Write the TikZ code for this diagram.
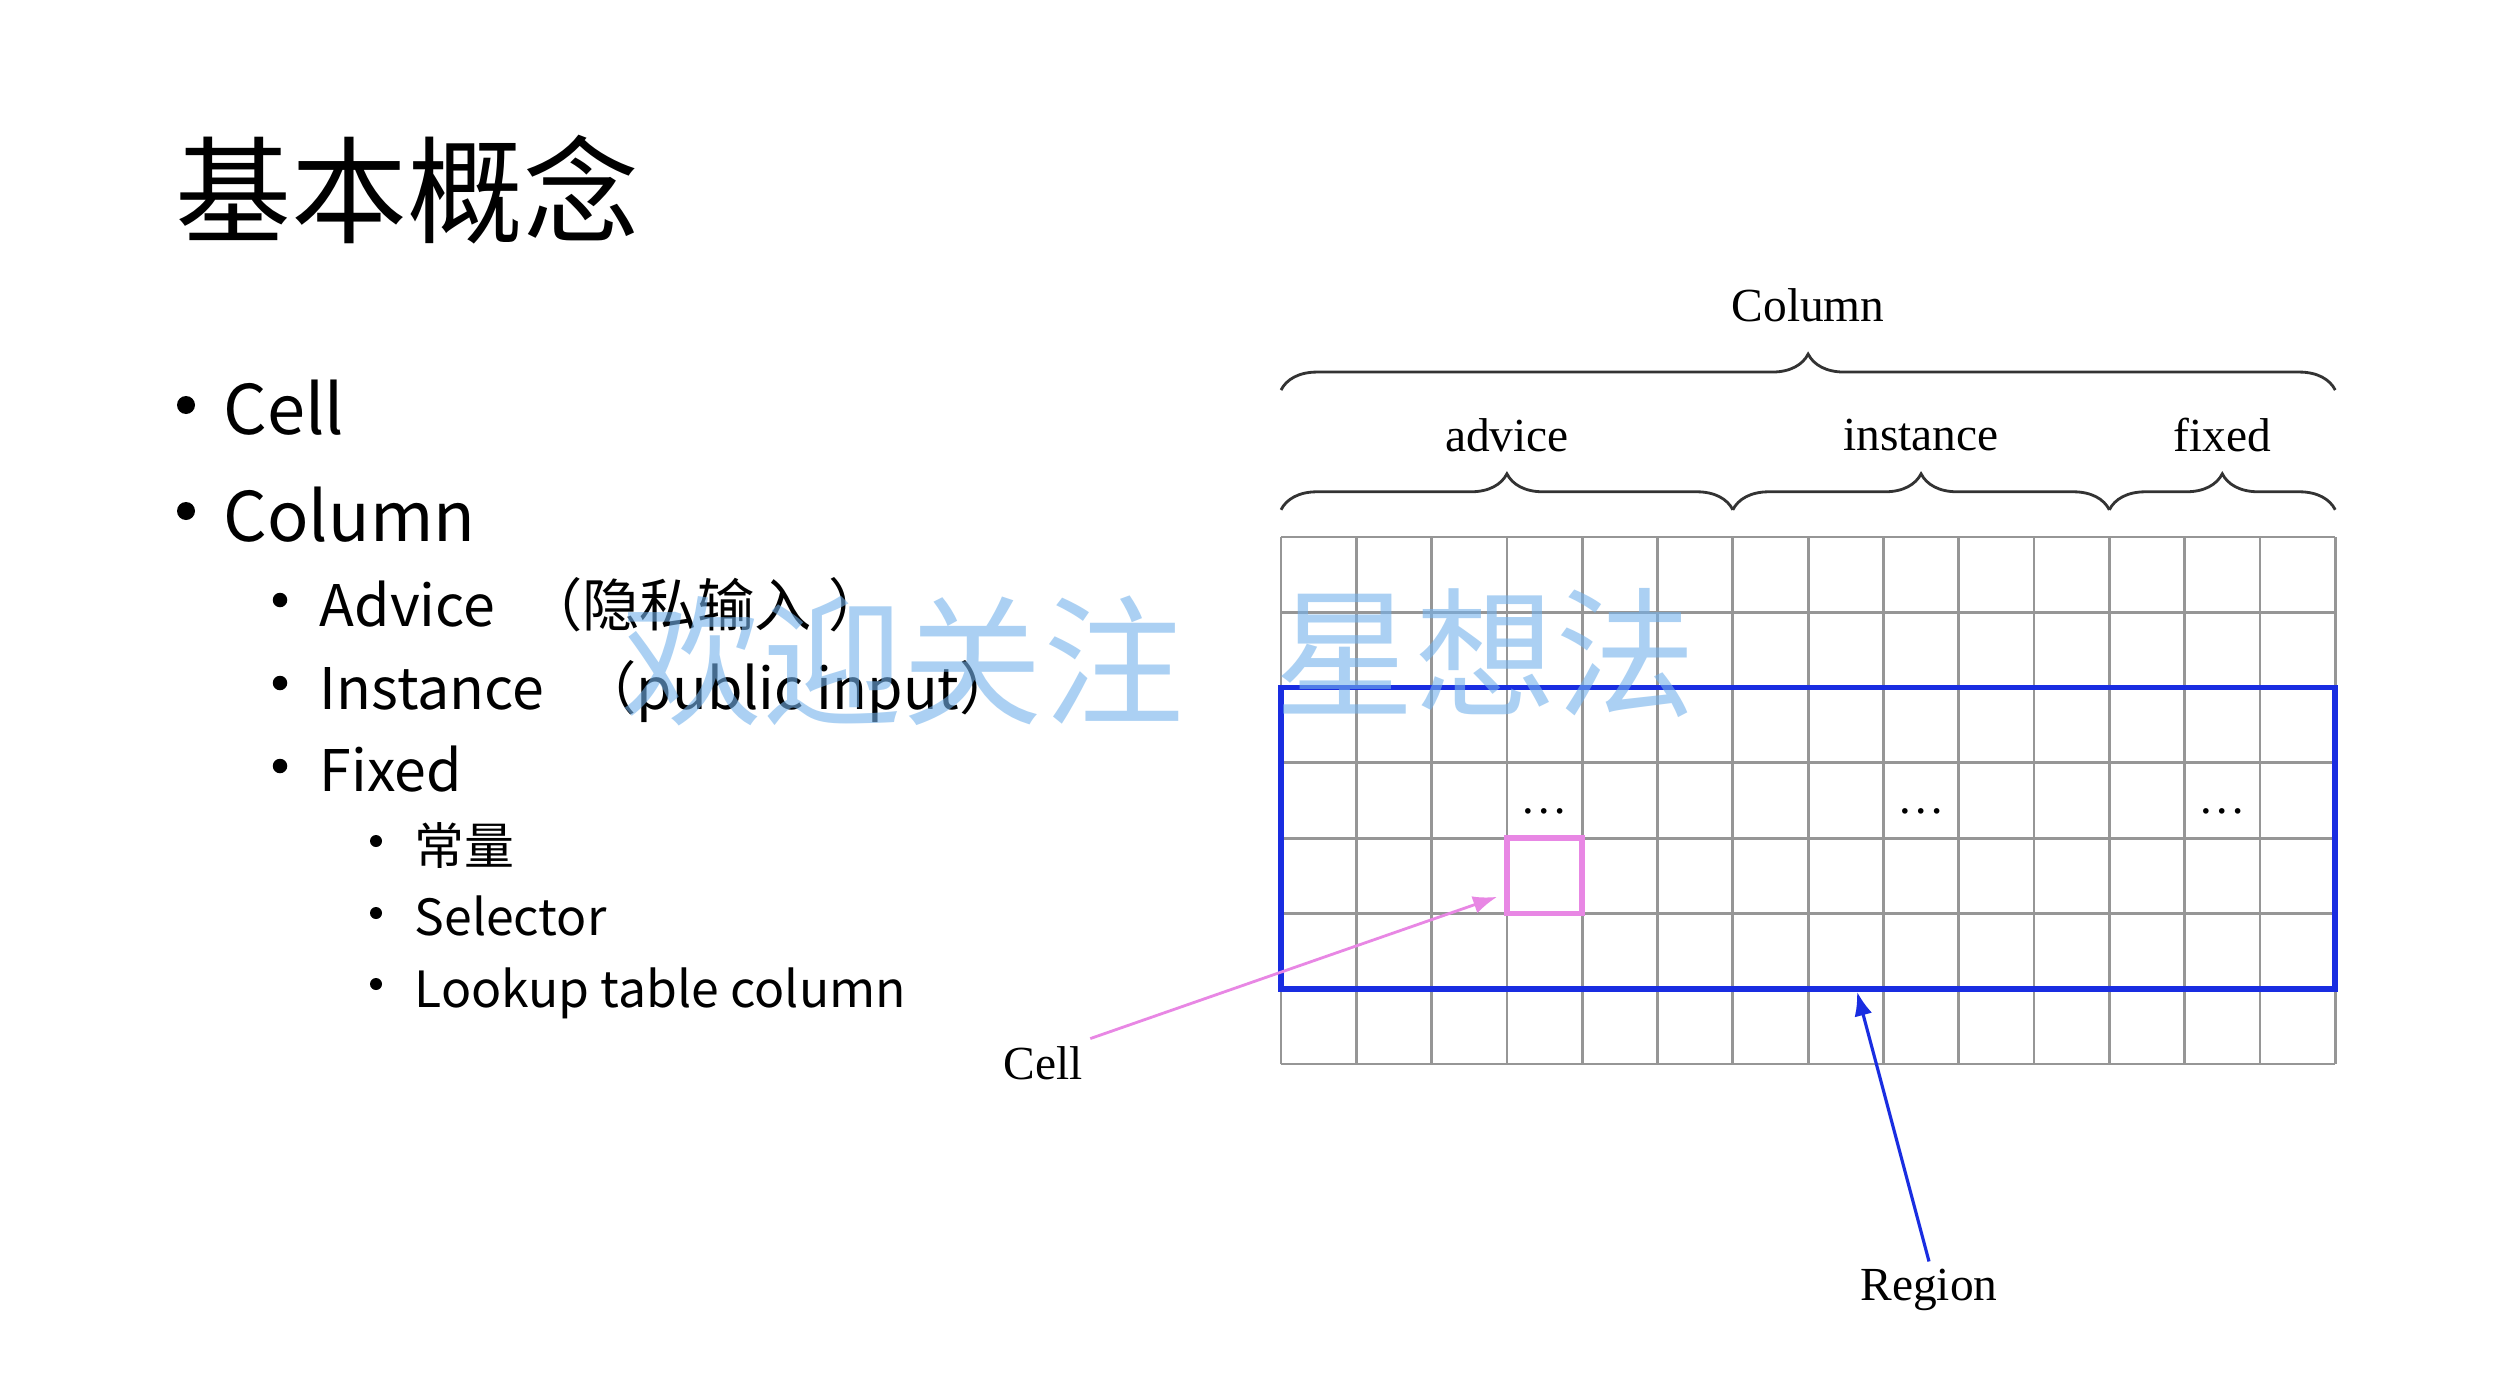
\documentclass[tikz,border=0pt]{standalone}
\usepackage{fontspec}
\setmainfont{Liberation Serif}
\newfontfamily\cjk{Noto Sans CJK SC}
\usepackage{tikz}
\usetikzlibrary{positioning,calc}
\usetikzlibrary{arrows.meta,decorations.pathreplacing}
\definecolor{RegionBlue}{RGB}{25,45,225}
\definecolor{CellPink}{RGB}{232,135,228}
\definecolor{InkBlue}{RGB}{115,178,235}
\definecolor{GridGray}{RGB}{150,150,150}
\tikzset{
  title/.style={anchor=west,inner sep=0pt,font=\cjk\fontsize{33}{38}\selectfont},
  itemA/.style={anchor=base west,inner sep=0pt,font=\cjk\fontsize{19.5}{24}\selectfont},
  itemB/.style={anchor=base west,inner sep=0pt,font=\cjk\fontsize{16.3}{20}\selectfont},
  itemC/.style={anchor=base west,inner sep=0pt,font=\cjk\fontsize{14.2}{17}\selectfont},
  dotA/.style={circle,fill=black,inner sep=0pt,minimum size=1.8mm},
  dotB/.style={circle,fill=black,inner sep=0pt,minimum size=1.45mm},
  dotC/.style={circle,fill=black,inner sep=0pt,minimum size=1.2mm},
  lbl/.style={font=\fontsize{13.5}{16}\selectfont,inner sep=2pt},
  brc/.style={decorate,decoration={brace,amplitude=3.6mm},draw=black!80,line width=0.8pt},
  gridline/.style={draw=GridGray,line width=0.8pt},
  regionbox/.style={draw=RegionBlue,line width=1.6pt},
  cellbox/.style={draw=CellPink,line width=1.6pt},
  ink/.style={anchor=west,inner sep=0pt,text=InkBlue,opacity=0.6,font=\cjk\fontsize{40}{44}\selectfont},
}
\begin{document}
\begin{tikzpicture}
\useasboundingbox[fill=white] (0,0) rectangle (24.98,13.96);
% left column
\node[title] (title) at (1.75,12.06) {基本概念};
\node[dotA] (b1) at (1.86,9.91) {};
\node[itemA] (cell) at (2.23,9.62) {Cell};
\node[dotA] (b2) at (1.86,8.85) {};
\node[itemA] (column) at (2.23,8.55) {Column};
\node[dotB] (b3) at (2.80,7.96) {};
\node[itemB] (advice) at (3.19,7.70) {Advice\hspace{0.3em} （隐私输入\hspace{0.3em}）};
\node[dotB] (b4) at (2.80,7.13) {};
\node[itemB] (instance) at (3.19,6.87) {Instance\hspace{0.4em} （public input）};
\node[dotB] (b5) at (2.80,6.30) {};
\node[itemB] (fixed) at (3.19,6.05) {Fixed};
\node[dotC] (b6) at (3.76,5.55) {};
\node[itemC] (const) at (4.14,5.32) {常量};
\node[dotC] (b7) at (3.76,4.83) {};
\node[itemC] (selector) at (4.14,4.61) {Selector};
\node[dotC] (b8) at (3.76,4.12) {};
\node[itemC] (lookup) at (4.14,3.89) {Lookup table column};
% table
\begin{scope}[shift={(12.81,3.32)},scale=0.753]
\draw[gridline] (0,0) grid (14,7);
\draw[brc] (0,8.95) -- (14,8.95);
\draw[brc] (0,7.36) -- (6,7.36);
\draw[brc] (6,7.36) -- (11,7.36);
\draw[brc] (11,7.36) -- (14,7.36);
\node[lbl] (colhead) at (7,10.07) {Column};
\node[lbl] (advhead) at (3,8.35) {advice};
\node[lbl] (insthead) at (8.5,8.35) {instance};
\node[lbl] (fixhead) at (12.5,8.35) {fixed};
\node[lbl] (dotsA) at (3.5,3.36) {\dots};
\node[lbl] (dotsB) at (8.5,3.36) {\dots};
\node[lbl] (dotsC) at (12.5,3.36) {\dots};
\draw[regionbox] (0,1) rectangle (14,5);
\draw[cellbox] (3,2) rectangle (4,3);
\coordinate (cellhit) at (2.87,2.22);
\coordinate (regionhit) at (7.65,0.96);
\end{scope}
\node[lbl] (celllbl) at (10.43,3.33) {Cell};
\node[lbl] (regionlbl) at (19.29,1.06) {Region};
\draw[draw=CellPink,line width=0.8pt,-{Latex[length=2.4mm,width=1.8mm]}] (celllbl.north east) -- (cellhit);
\draw[draw=RegionBlue,line width=0.9pt,-{Latex[length=2.4mm,width=1.8mm]}] (regionlbl.north) -- (regionhit);
% handwriting
\node[ink] (ink1) at (6.21,7.35) {欢迎关注};
\node[ink] (ink2) at (12.74,7.43) {星想法};
\end{tikzpicture}
\end{document}
